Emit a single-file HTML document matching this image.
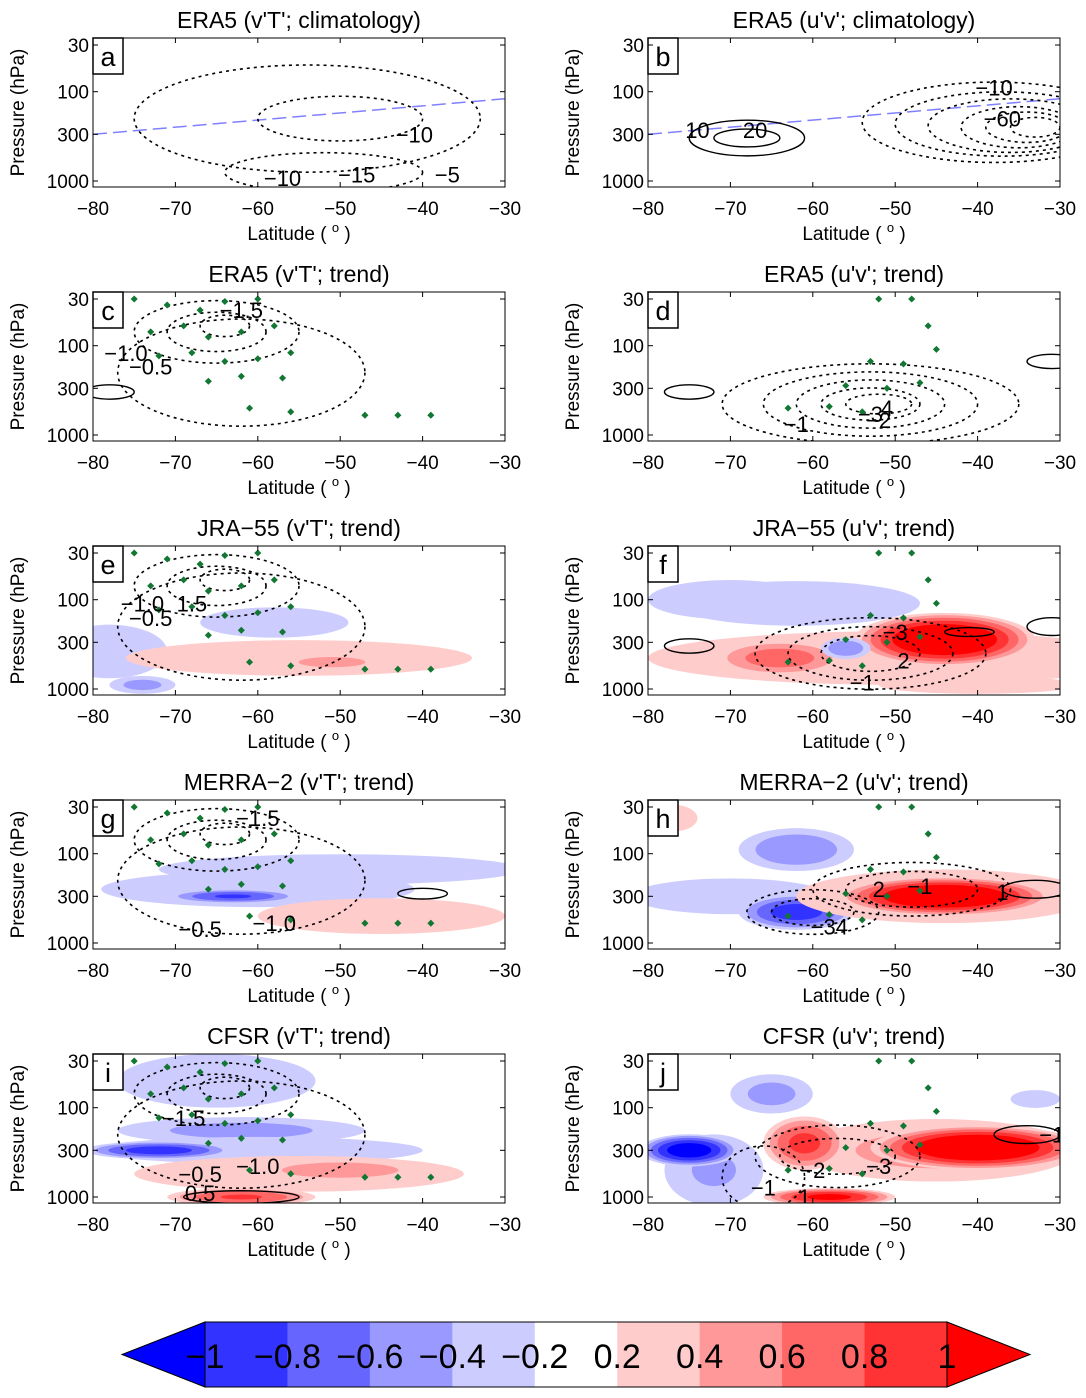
<!DOCTYPE html>
<html><head><meta charset="utf-8"><style>
body{margin:0;background:#fff;}
svg{display:block;font-family:"Liberation Sans",sans-serif;}
</style></head><body>
<svg id="fig" width="1086" height="1398" viewBox="0 0 1086 1398" xmlns="http://www.w3.org/2000/svg"></svg>
<script>
// ---------- data (lat, pressure hPa, half-width deg, half-height decades, amplitude) ----------
const titles = ["ERA5 (v'T'; climatology)","ERA5 (u'v'; climatology)","ERA5 (v'T'; trend)","ERA5 (u'v'; trend)","JRA\u221255 (v'T'; trend)","JRA\u221255 (u'v'; trend)","MERRA\u22122 (v'T'; trend)","MERRA\u22122 (u'v'; trend)","CFSR (v'T'; trend)","CFSR (u'v'; trend)"];
const letters = ["a","b","c","d","e","f","g","h","i","j"];
const xTicks = [-80,-70,-60,-50,-40,-30];
const yTicks = [30,100,300,1000];
const cbLabels = ["\u22121","\u22120.8","\u22120.6","\u22120.4","\u22120.2","0.2","0.4","0.6","0.8","1"];
const levels = [0.2,0.4,0.6,0.8,1.0];
const shadeA = [], shadeB = [], shadeC = [], shadeD = [];
const shadeE = [[-58,180,9,0.17,-0.4],[-78,380,7,0.3,-0.3],[-55,450,21,0.2,0.35],[-51,500,7,0.1,0.5],[-74,900,4,0.1,-0.5]];
const shadeF = [[-70,100,10,0.22,-0.45],[-62,110,15,0.25,-0.25],[-50,450,30,0.3,0.3],[-44,280,11,0.3,1.4],[-64,450,8,0.2,0.75],[-56,350,3,0.12,-0.6],[-40,900,12,0.1,0.25]];
const shadeG = [[-50,150,22,0.17,-0.3],[-60,250,19,0.2,-0.4],[-63,300,8,0.08,-0.85],[-45,500,15,0.2,0.25]];
const shadeH = [[-62,90,7,0.24,-0.6],[-77,40,3,0.15,0.3],[-70,300,12,0.2,-0.4],[-62,450,7,0.2,-0.95],[-44,300,18,0.3,0.5],[-44,300,13,0.22,1.4]];
const shadeI = [[-65,50,12,0.3,-0.3],[-62,180,15,0.15,-0.5],[-60,300,20,0.15,-0.4],[-72,300,9,0.1,-0.95],[-55,550,20,0.2,0.3],[-50,500,10,0.12,0.6],[-62,1000,9,0.1,0.85]];
const shadeJ = [[-65,70,5,0.22,-0.5],[-79,40,2,0.15,0.25],[-72,500,6,0.4,-0.45],[-75,300,6,0.18,-1.2],[-45,300,17,0.35,0.5],[-40,280,13,0.25,1.4],[-61,250,5,0.3,0.9],[-58,1000,8,0.1,1.1],[-33,80,3,0.1,-0.25]];
const shades = [shadeA,shadeB,shadeC,shadeD,shadeE,shadeF,shadeG,shadeH,shadeI,shadeJ];
const dashVT = [[-65,70,10,0.35],[-65,70,6,0.22],[-64,60,3,0.12],[-62,200,15,0.6]];
const dashed = [
 [[-54,200,21,0.6],[-50,200,10,0.25],[-52,800,12,0.22]],
 [[-38,220,16,0.45],[-37,230,13,0.36],[-36,240,10,0.3],[-35,250,7,0.23],[-34,250,5,0.17],[-33,250,3,0.11]],
 dashVT,
 [[-53,450,18,0.45],[-53,450,13,0.36],[-53,450,9,0.27],[-53,450,6,0.18],[-52,450,4,0.11]],
 dashVT,
 [[-53,400,14,0.4],[-53,400,10,0.3],[-53,400,6,0.2]],
 dashVT,
 [[-60,450,8,0.25],[-60,450,5,0.15],[-48,250,12,0.3],[-48,250,8,0.2]],
 dashVT,
 [[-57,350,10,0.35],[-57,350,7,0.2],[-66,600,5,0.35]]
];
const solid = [[],[[-68,330,7,0.2],[-68,330,4,0.1]],[[-78,330,3,0.08]],[[-75,330,3,0.08],[-31,150,3,0.08]],[],[[-75,330,3,0.08],[-31,200,3,0.1],[-41,230,3,0.05]],[[-40,280,3,0.06]],[[-33,250,4,0.1]],[[-62,1000,7,0.07]],[[-34,200,4,0.1]]];
const labelsAll = [
 [[-41,300,"\u221210"],[-57,920,"\u221210"],[-48,850,"\u221215"],[-37,850,"\u22125"]],
 [[-74,270,"10"],[-67,270,"20"],[-38,90,"\u221210"],[-37,200,"\u221260"]],
 [[-62,40,"\u22121.5"],[-76,120,"\u22121.0"],[-73,170,"\u22120.5"]],
 [[-62,750,"\u22121"],[-53,580,"\u22123"],[-51,500,"4"],[-52,680,"\u22122"]],
 [[-74,110,"\u22121.0"],[-68,110,"1.5"],[-73,160,"\u22120.5"]],
 [[-50,230,"\u22123"],[-49,480,"2"],[-54,850,"\u22121"]],
 [[-60,40,"\u22121.5"],[-67,700,"\u22120.5"],[-58,600,"\u22121.0"]],
 [[-52,250,"2"],[-47,230,"\u22121"],[-37,270,"1"],[-58,650,"\u221234"]],
 [[-69,130,"\u22121.5"],[-60,450,"\u22121.0"],[-67,550,"\u22120.5"],[-67,900,"0.5"]],
 [[-31,200,"\u22121"],[-60,500,"\u22122"],[-52,450,"\u22123"],[-66,780,"\u22121"],[-61,1000,"1"]]
];
const dotsVT = [[-75,30],[-71,35],[-67,40],[-64,32],[-60,30],[-73,70],[-69,60],[-66,80],[-62,70],[-58,60],[-72,130],[-68,120],[-64,150],[-60,140],[-56,120],[-66,250],[-62,220],[-57,230],[-61,500],[-56,550],[-47,600],[-43,600],[-39,600]];
const dotsUV = [[-52,30],[-48,30],[-46,60],[-53,150],[-49,160],[-45,110],[-56,280],[-51,300],[-47,260],[-63,500],[-58,480],[-54,550]];
const dots = [[],[],dotsVT,dotsUV,dotsVT,dotsUV,dotsVT,dotsUV,dotsVT,dotsUV];
const tropo = [[-80,300],[-30,120]];

// ---------- rendering ----------
const NS="http://www.w3.org/2000/svg", svg=document.getElementById('fig');
function mk(tag,attrs,parent){const e=document.createElementNS(NS,tag);for(const k in attrs)e.setAttribute(k,attrs[k]);(parent||svg).appendChild(e);return e;}
const blues=["#ccccff","#9999ff","#6666ff","#3333ff","#0000ff"], reds=["#ffcccc","#ff9999","#ff6666","#ff3333","#ff0000"];
const W=412,H=149;
for(let i=0;i<10;i++){
 const col=i%2,row=Math.floor(i/2);
 const x0=col?648:93, top=38+254*row;
 const xs=lat=>x0+(lat+80)/50*W;
 const ys=p=>top+143-Math.log10(1000/p)*89.3;
 const g=mk('g',{});
 
 
 const cp=mk('clipPath',{id:'c'+i},g); mk('rect',{x:x0,y:top,width:W,height:H},cp);
 const body=mk('g',{'clip-path':'url(#c'+i+')'},g);
 shades[i].forEach(b=>{const A=Math.abs(b[4]);const pal=b[4]<0?blues:reds;
  levels.forEach((L,k)=>{if(A>L){const s=Math.sqrt((A-L)/(A-0.2||1));
   const e=mk('ellipse',{cx:xs(b[0]),cy:ys(b[1]),rx:b[2]*W/50*s,ry:b[3]*89.3*s,fill:pal[k]},body);
   
   }});});
 if(i<2){const l=mk('line',{x1:xs(tropo[0][0]),y1:ys(tropo[0][1]),x2:xs(tropo[1][0]),y2:ys(tropo[1][1]),stroke:'#8080ff','stroke-width':1.5,'stroke-dasharray':'14,6'},body);
  
  }
 dashed[i].forEach(c=>{const e=mk('ellipse',{cx:xs(c[0]),cy:ys(c[1]),rx:c[2]*W/50,ry:c[3]*89.3,fill:'none',stroke:'#000','stroke-width':1.6,'stroke-dasharray':'3,4'},body);
  
  });
 solid[i].forEach(c=>{const e=mk('ellipse',{cx:xs(c[0]),cy:ys(c[1]),rx:c[2]*W/50,ry:c[3]*89.3,fill:'none',stroke:'#000','stroke-width':1.4},body);
  
  });
 dots[i].forEach(d=>{const r=mk('rect',{x:xs(d[0])-2.5,y:ys(d[1])-2.5,width:5,height:5,fill:'#117733',transform:'rotate(45 '+xs(d[0])+' '+ys(d[1])+')'},body);
  
  });
 labelsAll[i].forEach(t=>{const e=mk('text',{x:xs(t[0]),y:ys(t[1])+8,'font-size':22,'text-anchor':'middle',fill:'#000'},body);e.textContent=t[2];
  
  });
 const fr=mk('rect',{x:x0,y:top,width:W,height:H,fill:'none',stroke:'#000','stroke-width':1},g);
 
 
 const lb=mk('rect',{x:x0,y:top,width:30,height:36,fill:'#fff',stroke:'#000','stroke-width':1.5},g);
 
 
 const lt=mk('text',{x:x0+15,y:top+28,'font-size':27,'text-anchor':'middle'},g);lt.textContent=letters[i];
 
 
 const tt=mk('text',{x:x0+W/2,y:top-10,'font-size':23,'text-anchor':'middle'},g);tt.textContent=titles[i];
 
 
 xTicks.forEach(v=>{const X=xs(v);mk('line',{x1:X,y1:top+H,x2:X,y2:top+H-5,stroke:'#000'},g);mk('line',{x1:X,y1:top,x2:X,y2:top+5,stroke:'#000'},g);
  const t=mk('text',{x:X,y:top+H+28,'font-size':19,'text-anchor':'middle'},g);t.textContent=v<0?'\u2212'+(-v):v;
  
  });
 yTicks.forEach(v=>{const Y=ys(v);mk('line',{x1:x0,y1:Y,x2:x0+5,y2:Y,stroke:'#000'},g);mk('line',{x1:x0+W,y1:Y,x2:x0+W-5,y2:Y,stroke:'#000'},g);
  const t=mk('text',{x:x0-4,y:Y+7,'font-size':19,'text-anchor':'end'},g);t.textContent=v;
  
  });
 const xl=mk('text',{x:x0+W/2,y:top+H+53,'font-size':19,'text-anchor':'middle'},g);xl.textContent='Latitude ( ';
 const sup=mk('tspan',{'font-size':13,dy:-8},xl);sup.textContent='o';
 const rest=mk('tspan',{dy:8},xl);rest.textContent=' )';
 
 
 const yl=mk('text',{x:0,y:0,'font-size':19,'text-anchor':'middle',transform:'translate('+(x0-69)+','+(top+H/2)+') rotate(-90)'},g);yl.textContent='Pressure (hPa)';
 
 
}
const cb=mk('g',{});


const cx0=205,cx1=947,cy0=1322,cy1=1387,segW=(cx1-cx0)/9;
const segCols=["#3333ff","#6666ff","#9999ff","#ccccff","#ffffff","#ffcccc","#ff9999","#ff6666","#ff3333"];
mk('polygon',{points:`${cx0},${cy0} 122,${(cy0+cy1)/2} ${cx0},${cy1}`,fill:'#0000ff',stroke:'#000'},cb);
mk('polygon',{points:`${cx1},${cy0} 1030,${(cy0+cy1)/2} ${cx1},${cy1}`,fill:'#ff0000',stroke:'#000'},cb);
segCols.forEach((c,k)=>{const r=mk('rect',{x:cx0+k*segW,y:cy0,width:segW+0.5,height:cy1-cy0,fill:c},cb);
 
 });
mk('rect',{x:cx0,y:cy0,width:cx1-cx0,height:cy1-cy0,fill:'none',stroke:'#000'},cb);
cbLabels.forEach((s,k)=>{const t=mk('text',{x:cx0+k*segW,y:1368,'font-size':34,'text-anchor':'middle'},cb);t.textContent=s;
 
 });
</script>
</body></html>
